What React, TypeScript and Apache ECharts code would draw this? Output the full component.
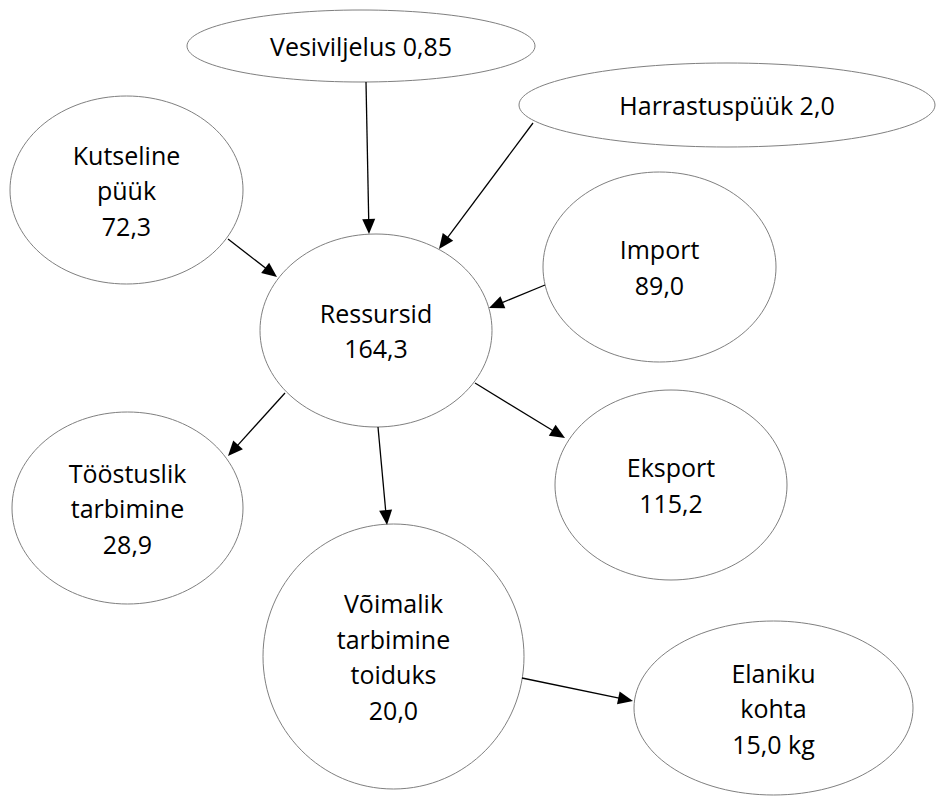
import React, { useEffect, useRef } from "react";
import * as echarts from "echarts";

// ---- Data ----
const nodeNames = [
  "Vesiviljelus",
  "Harrastuspüük",
  "Kutseline\npüük",
  "Import",
  "Ressursid",
  "Tööstuslik\ntarbimine",
  "Eksport",
  "Võimalik\ntarbimine\ntoiduks",
  "Elaniku\nkohta",
];
const nodeValues = [0.85, 2.0, 72.3, 89.0, 164.3, 28.9, 115.2, 20.0, 15.0];
const nodeDecimals = [2, 1, 1, 1, 1, 1, 1, 1, 1];
const nodeUnits = ["", "", "", "", "", "", "", "", " kg"];
const nodeInline = [true, true, false, false, false, false, false, false, false];

// flows: from node index -> to node index
const edgeFrom = [0, 1, 2, 3, 4, 4, 4, 7];
const edgeTo = [4, 4, 4, 4, 5, 6, 7, 8];

// ---- Layout (pixel space of the 936x796 canvas) ----
const nodeX = [361, 727, 126.5, 659.5, 376, 127.5, 671, 393.5, 773.5];
const nodeY = [46, 105, 190, 267, 330.5, 508, 485, 656.5, 708];
const nodeRX = [174, 208, 116.5, 116.5, 116, 115.5, 116, 130.5, 139.5];
const nodeRY = [36, 42, 94, 95, 96.5, 96, 95, 132.5, 87];

const edgeStart = [
  [366, 82],
  [533, 123],
  [228, 239],
  [545, 285],
  [285, 393],
  [475, 383],
  [378, 427],
  [522, 678],
];
const edgeTip = [
  [369, 234],
  [439, 249],
  [277, 277],
  [489, 308],
  [228, 456],
  [565, 438],
  [387, 525],
  [633, 701],
];

const W = 936;
const H = 796;
const FONT = "'Open Sans', 'Noto Sans', sans-serif";

function fmt(v: number, d: number) {
  return v.toFixed(d).replace(".", ",");
}

function labelOf(i: number) {
  const val = fmt(nodeValues[i], nodeDecimals[i]) + nodeUnits[i];
  return nodeNames[i] + (nodeInline[i] ? " " : "\n") + val;
}

export default function App() {
  const ref = useRef<HTMLDivElement>(null);
  useEffect(() => {
    if (!ref.current) return;
    const chart = echarts.init(ref.current, null, { renderer: "svg" });
    const nodeData = nodeNames.map((_, i) => [nodeX[i], nodeY[i], nodeRX[i], nodeRY[i]]);
    const edgeData = edgeFrom.map((_, i) => [
      edgeStart[i][0],
      edgeStart[i][1],
      edgeTip[i][0],
      edgeTip[i][1],
    ]);
    chart.setOption({
      animation: false,
      backgroundColor: "#ffffff",
      grid: { left: 0, right: 0, top: 0, bottom: 0 },
      xAxis: { type: "value", min: 0, max: W, show: false },
      yAxis: { type: "value", min: 0, max: H, inverse: true, show: false },
      series: [
        {
          type: "custom",
          name: "nodes",
          coordinateSystem: "cartesian2d",
          clip: false,
          data: nodeData,
          encode: { x: 0, y: 1 },
          z: 2,
          renderItem: (params: any, api: any) => {
            const i = params.dataIndex;
            const c = api.coord([api.value(0), api.value(1)]);
            const s = api.size([api.value(2), api.value(3)]);
            return {
              type: "group",
              children: [
                {
                  type: "ellipse",
                  shape: { cx: c[0], cy: c[1], rx: s[0], ry: s[1] },
                  style: { fill: "#ffffff", stroke: "#7f7f7f", lineWidth: 1 },
                },
                {
                  type: "text",
                  style: {
                    text: labelOf(i),
                    x: c[0],
                    y: c[1],
                    align: "center",
                    verticalAlign: "middle",
                    fontSize: 25,
                    fontFamily: FONT,
                    lineHeight: 35.5,
                    fill: "#000000",
                  },
                },
              ],
            };
          },
        },
        {
          type: "custom",
          name: "flows",
          coordinateSystem: "cartesian2d",
          clip: false,
          data: edgeData,
          encode: { x: [0, 2], y: [1, 3] },
          z: 3,
          renderItem: (params: any, api: any) => {
            const p1 = api.coord([api.value(0), api.value(1)]);
            const p2 = api.coord([api.value(2), api.value(3)]);
            const dx = p2[0] - p1[0];
            const dy = p2[1] - p1[1];
            const len = Math.sqrt(dx * dx + dy * dy);
            const ux = dx / len;
            const uy = dy / len;
            const nx = -uy;
            const ny = ux;
            const headL = 15;
            const headW = 6.5;
            const bx = p2[0] - ux * headL;
            const by = p2[1] - uy * headL;
            return {
              type: "group",
              children: [
                {
                  type: "line",
                  shape: { x1: p1[0], y1: p1[1], x2: bx + ux * 2, y2: by + uy * 2 },
                  style: { stroke: "#000000", lineWidth: 1.3 },
                },
                {
                  type: "polygon",
                  shape: {
                    points: [
                      [p2[0], p2[1]],
                      [bx + nx * headW, by + ny * headW],
                      [bx - nx * headW, by - ny * headW],
                    ],
                  },
                  style: { fill: "#000000", stroke: "none" },
                },
              ],
            };
          },
        },
      ],
    });
    return () => chart.dispose();
  }, []);
  return (
    <div
      ref={ref}
      style={{ position: "fixed", left: 0, top: 0, width: W, height: H, background: "#fff" }}
    />
  );
}
